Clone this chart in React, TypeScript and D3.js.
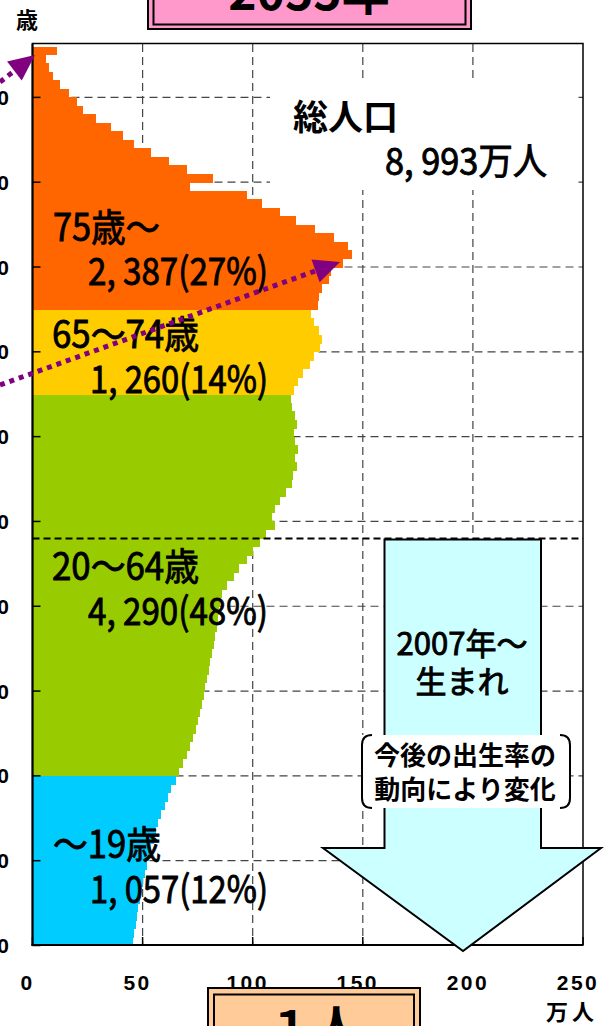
import React from "react";
import * as d3 from "d3";

const WIDTH = 604;
const HEIGHT = 1026;

// 各歳別人口（万人） — ascending age
const popAge0to19 = [45.7, 46.2, 46.8, 47.3, 48, 48.6, 49.3, 50, 51, 52, 53, 54, 55, 56, 57, 58.5, 60, 61.5, 63, 65];
const popAge20to64 = [
  66.4, 68.4, 70.2, 71.7, 72.9, 74.1, 75.2, 76.2, 77, 77.7,
  78.5, 79.3, 80, 80.8, 81.5, 82.3, 83, 83.6, 84.2, 84.8,
  85.3, 86.1, 88.4, 91.4, 93.7, 97.5, 100, 103.2, 106.2, 110.3,
  108.8, 110.3, 112.6, 114.9, 117.9, 118.4, 120.2, 119.4, 120.6, 119.4,
  118.6, 120.2, 119.4, 118, 117.4,
];
const popAge65to74 = [118.6, 120.6, 122.9, 125.9, 127.7, 130.5, 131.5, 130.3, 127.7, 126.7];
const popAge75plus = [
  129.5, 130, 131.5, 134.7, 135.4, 141, 145.3, 143.5, 136.8, 128.5,
  119.5, 112.5, 104, 97.5, 71.5, 82, 70, 62, 54, 46,
  41, 35.5, 29, 23, 20, 16.5, 12.5, 9.5, 7.5, 6, 11,
];

const groupNames = ["～19歳", "20～64歳", "65～74歳", "75歳～"];
const groupTotals = ["1, 057(12%)", "4, 290(48%)", "1, 260(14%)", "2, 387(27%)"];
const groupStartAge = [0, 20, 65, 75];
const groupColors = ["#00CCFF", "#99CC00", "#FFCC00", "#FF6600"];

const xTicks = [0, 50, 100, 150, 200, 250];
const yTicks = [0, 10, 20, 30, 40, 50, 60, 70, 80, 90, 100];

const yearTitle = "2055年";
const totalLabel = "総人口";
const totalValue = "8, 993万人";
const cohortAge = 48; // 2007年生まれ
const futureLines = ["2007年～", "生まれ"];
const noteLines = ["今後の出生率の", "動向により変化"];
const supportLabel = "１人";

const JP = "'Noto Sans CJK JP', 'Noto Sans', sans-serif";
const LAT = "'Liberation Sans', Arial, sans-serif";

export default function App() {
  const population = [...popAge0to19, ...popAge20to64, ...popAge65to74, ...popAge75plus];

  const x = d3.scaleLinear().domain([0, 250]).range([32.5, 583]);
  const y = d3.scaleLinear().domain([0, 106]).range([945.5, 46.5]);

  const groupOf = (age: number) => d3.bisectRight(groupStartAge, age) - 1;

  // label layout: [nameX, nameBaseline, nameLen, totalX, totalBaseline, totalLen]
  const labelLayout = [
    [53, 858, 108, 90, 903, 178],
    [52, 580, 147, 88, 625, 180],
    [52, 348, 147, 90, 393, 178],
    [53, 241, 107, 88, 285, 180],
  ];

  // purple cohort arrows (start, tip) in px
  const cohortArrows = [
    { from: [0, 385], to: [340, 262] },
    { from: [0, 82], to: [35, 55] },
  ];

  const arrowHead = (from: number[], to: number[]) => {
    const dx = to[0] - from[0];
    const dy = to[1] - from[1];
    const len = Math.hypot(dx, dy);
    const ux = dx / len;
    const uy = dy / len;
    const bx = to[0] - 26 * ux;
    const by = to[1] - 26 * uy;
    const nx = -uy;
    const ny = ux;
    return {
      base: [bx, by],
      pts: `${to[0]},${to[1]} ${bx + 12 * nx},${by + 12 * ny} ${bx - 12 * nx},${by - 12 * ny}`,
    };
  };

  // big "future births" arrow
  const shaftL = 384.5;
  const shaftR = 541;
  const shaftTop = y(cohortAge) + 1;
  const headY = 848;
  const headL = 323;
  const headR = 601;
  const apex = [463, 951];
  const bigArrow = `M${shaftL},${shaftTop} L${shaftR},${shaftTop} L${shaftR},${headY} L${headR},${headY} L${apex[0]},${apex[1]} L${headL},${headY} L${shaftL},${headY} Z`;

  // bracket note box
  const bL = 362, bR = 570, bT = 735, bB = 808, br = 10;

  const heavy = { stroke: "#000", strokeWidth: 0.9 };

  return (
    <svg
      width={WIDTH}
      height={HEIGHT}
      viewBox={`0 0 ${WIDTH} ${HEIGHT}`}
      style={{ position: "absolute", left: 0, top: 0, background: "#fff" }}
    >
      {/* title box (cut off at top) */}
      <rect x={148} y={-40} width={323} height={69} fill="#FF99CC" stroke="#000" strokeWidth={2} />
      <rect x={153.5} y={-40} width={312} height={64.5} fill="none" stroke="#000" strokeWidth={2} />
      <text x={309} y={10} textAnchor="middle" fontFamily={JP} fontWeight="bold" fontSize={48}>
        {yearTitle}
      </text>

      <text x={16} y={28} fontFamily={JP} fontWeight="bold" fontSize={22}>歳</text>

      {/* grid */}
      <g stroke="#444" strokeWidth={1.2} strokeDasharray="8 5" fill="none">
        {yTicks.filter((t) => t > 0).map((t) => (
          <line key={`h${t}`} x1={x(0)} x2={x(250)} y1={y(t)} y2={y(t)} />
        ))}
        {xTicks.filter((t) => t > 0 && t < 250).map((t) => (
          <line key={`v${t}`} x1={x(t)} x2={x(t)} y1={44} y2={945} />
        ))}
      </g>

      {/* total population box */}
      <rect x={270} y={83} width={308} height={107} fill="#fff" />

      {/* bars */}
      <g shapeRendering="crispEdges">
        {population.map((v, age) => (
          <rect
            key={age}
            x={x(0)}
            y={y(age + 1)}
            width={x(v) - x(0)}
            height={y(age) - y(age + 1) + 0.5}
            fill={groupColors[groupOf(age)]}
          />
        ))}
      </g>

      {/* frame and axes */}
      <rect x={x(0)} y={43.5} width={x(250) - x(0)} height={945 - 43.5} fill="none" stroke="#000" strokeWidth={1.5} />
      <line x1={x(0)} x2={x(0)} y1={43.5} y2={946} stroke="#000" strokeWidth={2} />
      <line x1={x(0) - 1} x2={x(250)} y1={945} y2={945} stroke="#000" strokeWidth={2} />
      {yTicks.map((t) => (
        <g key={`yt${t}`}>
          <line x1={x(0)} x2={x(0) + 8} y1={y(t)} y2={y(t)} stroke="#000" strokeWidth={1.5} />
          <text x={9} y={y(t) + 7.5} textAnchor="end" fontFamily={LAT} fontWeight="bold" fontSize={21}>
            {t}
          </text>
        </g>
      ))}
      {xTicks.map((t) => (
        <g key={`xt${t}`}>
          <line x1={x(t)} x2={x(t)} y1={945} y2={937} stroke="#000" strokeWidth={1.5} />
          <text
            x={x(t) - 5}
            y={990}
            textAnchor="middle"
            fontFamily={LAT}
            fontWeight="bold"
            fontSize={21}
            letterSpacing={2.5}
          >
            {t}
          </text>
        </g>
      ))}
      <text x={598} y={1020} textAnchor="end" fontFamily={JP} fontWeight="bold" fontSize={22} letterSpacing={4}>
        万人
      </text>

      {/* 2007年生まれ line */}
      <line x1={x(0)} x2={x(250)} y1={y(cohortAge)} y2={y(cohortAge)} stroke="#000" strokeWidth={2} strokeDasharray="7 4" />

      {/* big arrow */}
      <path d={bigArrow} fill="#CCFFFF" stroke="#000" strokeWidth={2} strokeLinejoin="miter" />
      {futureLines.map((s, i) => (
        <text key={s} x={462} y={655 + i * 38} textAnchor="middle" fontFamily={JP} fontSize={31} {...heavy}>
          {s}
        </text>
      ))}

      {/* bracket note */}
      <rect x={bL} y={bT} width={bR - bL} height={bB - bT} fill="#fff" />
      <path
        d={`M${bL + br},${bT} Q${bL},${bT} ${bL},${bT + br} L${bL},${bB - br} Q${bL},${bB} ${bL + br},${bB}
           M${bR - br},${bT} Q${bR},${bT} ${bR},${bT + br} L${bR},${bB - br} Q${bR},${bB} ${bR - br},${bB}`}
        fill="none"
        stroke="#000"
        strokeWidth={2}
      />
      {noteLines.map((s, i) => (
        <text key={s} x={465} y={765 + i * 34} textAnchor="middle" fontFamily={JP} fontWeight="bold" fontSize={26}>
          {s}
        </text>
      ))}

      {/* total population */}
      <text x={293} y={130} fontFamily={JP} fontWeight="bold" fontSize={35}>{totalLabel}</text>
      <text x={385} y={175} fontFamily={JP} fontSize={37} textLength={162} lengthAdjust="spacingAndGlyphs" {...heavy}>
        {totalValue}
      </text>

      {/* group labels */}
      {groupNames.map((name, i) => {
        const [nx, ny, nl, tx, ty, tl] = labelLayout[i];
        return (
          <g key={name} fontFamily={JP} fontSize={38} {...heavy}>
            <text x={nx} y={ny} textLength={nl} lengthAdjust="spacingAndGlyphs">{name}</text>
            <text x={tx} y={ty} textLength={tl} lengthAdjust="spacingAndGlyphs">{groupTotals[i]}</text>
          </g>
        );
      })}

      {/* cohort arrows */}
      {cohortArrows.map((a, i) => {
        const h = arrowHead(a.from, a.to);
        return (
          <g key={i}>
            <line
              x1={a.from[0]}
              y1={a.from[1]}
              x2={h.base[0]}
              y2={h.base[1]}
              stroke="#800080"
              strokeWidth={5}
              strokeDasharray="5 5"
            />
            <polygon points={h.pts} fill="#800080" />
          </g>
        );
      })}

      {/* bottom box (cut off) */}
      <rect x={208} y={988} width={212} height={60} fill="#FFCC99" stroke="#000" strokeWidth={2} />
      <rect x={214} y={994.5} width={200} height={60} fill="none" stroke="#000" strokeWidth={2} />
      <text x={314} y={1044} textAnchor="middle" fontFamily={JP} fontWeight="bold" fontSize={46}>
        {supportLabel}
      </text>
    </svg>
  );
}
